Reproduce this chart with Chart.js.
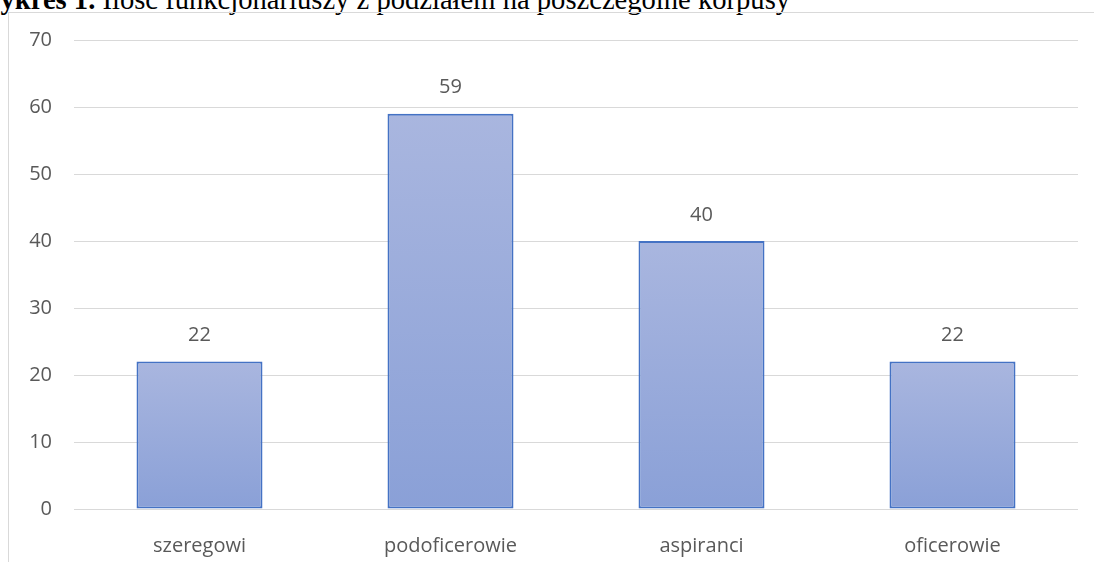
<!DOCTYPE html>
<html>
<head>
<meta charset="utf-8">
<script src="https://cdn.jsdelivr.net/npm/chart.js@4/dist/chart.umd.min.js"></script>
<style>
  html, body { margin: 0; padding: 0; background: #fff; }
  body { width: 1094px; height: 562px; position: relative; overflow: hidden; }
  #caption {
    position: absolute; left: -27px; top: -14px; white-space: nowrap; line-height: 1;
    font-family: "Liberation Serif", "DejaVu Serif", serif; font-size: 28.6px; color: #000;
  }
  #frame {
    position: absolute; left: 8px; top: 12px; width: 1200px; height: 700px;
    border-left: 1px solid #d9d9d9; border-top: 1px solid #d9d9d9;
  }
  #wrap { position: absolute; left: 0; top: 0; width: 1094px; height: 562px; }
</style>
</head>
<body>
<div id="caption"><b>Wykres 1.</b> Ilość funkcjonariuszy z podziałem na poszczególne korpusy</div>
<div id="frame"></div>
<div id="wrap"><canvas id="chart" width="1094" height="562"></canvas></div>
<script>
/* ---------------------------------- Data ---------------------------------- */
const categories = ['szeregowi', 'podoficerowie', 'aspiranci', 'oficerowie'];
const counts = [22, 59, 40, 22];
const yTicks = [0, 10, 20, 30, 40, 50, 60, 70];

/* --------------------------------- Helpers -------------------------------- */
// gradient over each bar, lighter at the top like the Excel fill
const barFill = (ctx) => {
    const chart = ctx.chart;
    const area = chart.chartArea;
    if (!area || ctx.parsed === undefined) return '#98aadb';
    const yScale = chart.scales.y;
    const top = yScale.getPixelForValue(ctx.parsed.y);
    const bottom = yScale.getPixelForValue(0);
    const g = chart.ctx.createLinearGradient(0, top, 0, bottom);
    g.addColorStop(0, '#a9b6df');
    g.addColorStop(1, '#8aa0d7');
    return g;
};

const tickFont = { family: 'Open Sans', size: 20 };

const valueLabels = {
    id: 'valueLabels',
    afterDatasetsDraw(chart) {
        const ctx = chart.ctx;
        ctx.save();
        ctx.font = '20px "Open Sans", sans-serif';
        ctx.fillStyle = '#595959';
        ctx.textAlign = 'center';
        ctx.textBaseline = 'middle';
        chart.getDatasetMeta(0).data.forEach((bar, i) => {
            ctx.fillText(String(counts[i]), bar.x, bar.y - 26);
        });
        ctx.restore();
    }
};

/* -------------------------------- Chart.js -------------------------------- */
new Chart(document.getElementById('chart'), {
    type: 'bar',
    data: {
        labels: categories,
        datasets: [{
            data: counts,
            backgroundColor: barFill,
            borderColor: '#4472c4',
            borderWidth: 2,
            borderSkipped: false,
            categoryPercentage: 1,
            barPercentage: 0.502
        }]
    },
    options: {
        responsive: false,
        animation: false,
        devicePixelRatio: 1,
        layout: { padding: { left: 0, top: 40, right: 16, bottom: 0 } },
        plugins: { legend: { display: false }, tooltip: { enabled: false } },
        scales: {
            x: {
                grid: { display: false },
                border: { display: false },
                ticks: { color: '#595959', font: tickFont, padding: 17 },
                afterFit: (s) => { s.height = 53; }
            },
            y: {
                min: 0,
                max: 70,
                afterBuildTicks: (s) => { s.ticks = yTicks.map(v => ({ value: v })); },
                grid: { color: '#d9d9d9', lineWidth: 1, drawTicks: false },
                border: { display: false },
                ticks: { color: '#595959', font: tickFont, padding: 22 },
                afterFit: (s) => { s.width = 74; }
            }
        }
    },
    plugins: [valueLabels]
});
</script>
</body>
</html>
